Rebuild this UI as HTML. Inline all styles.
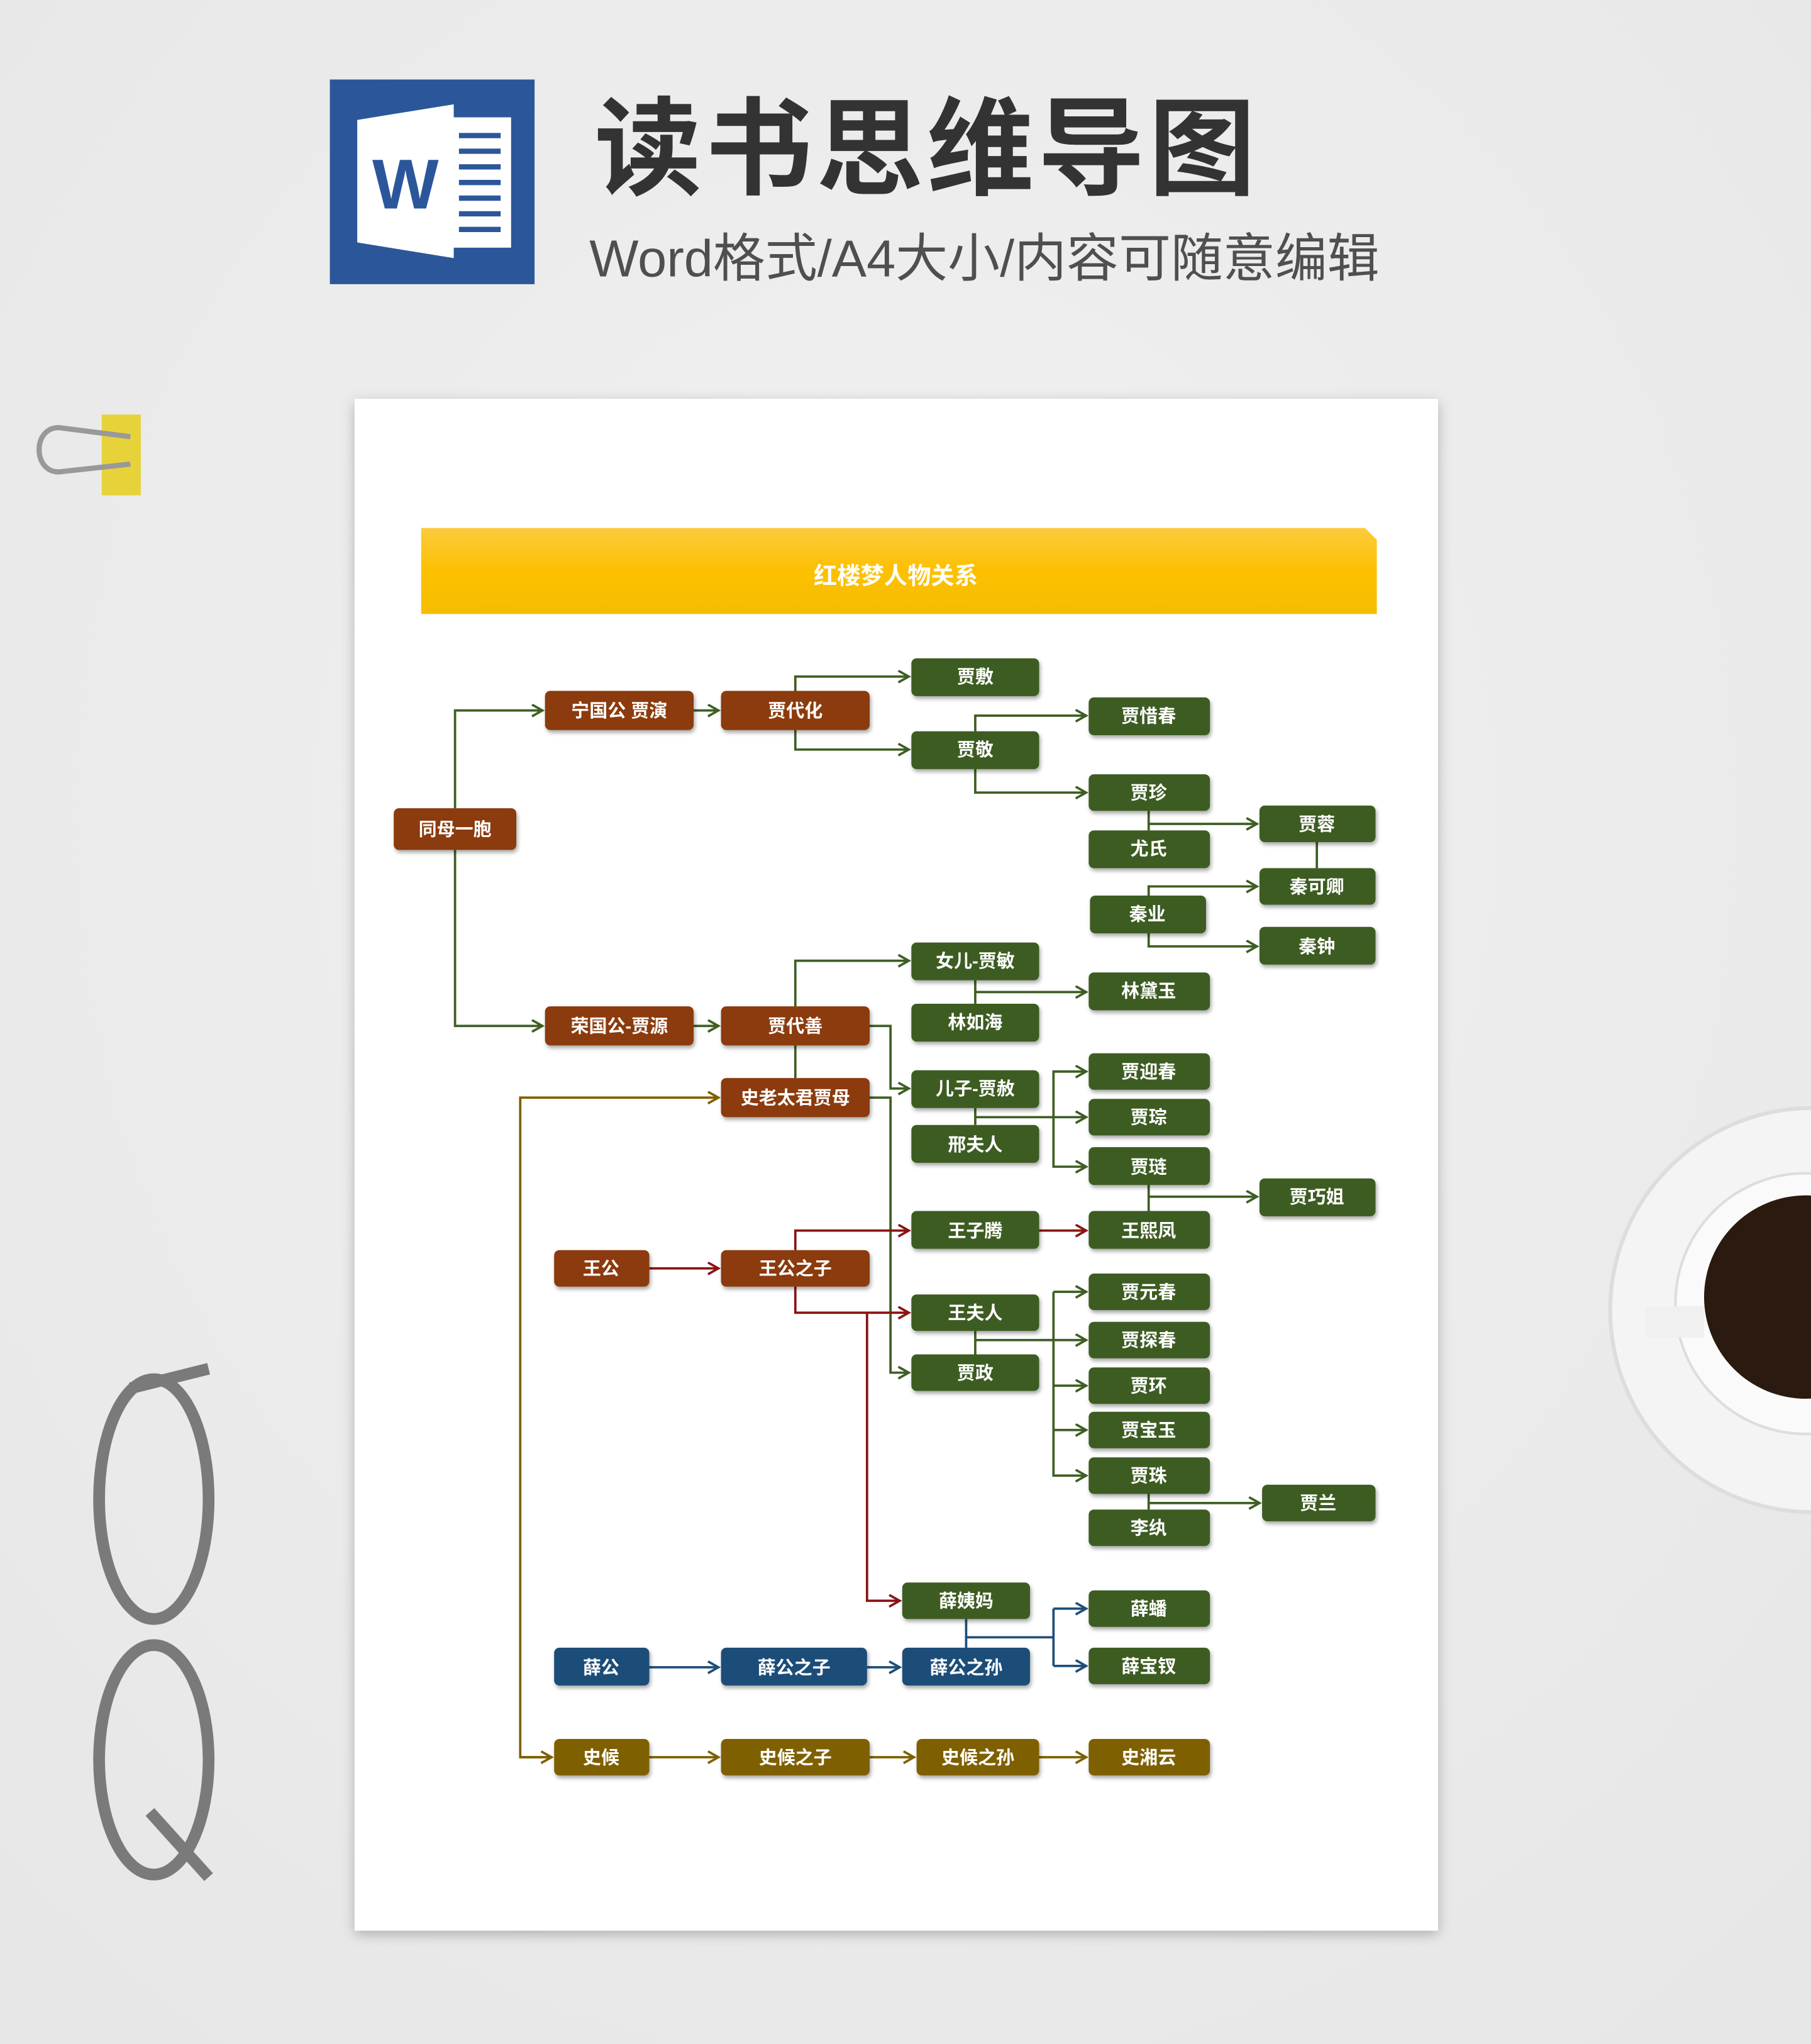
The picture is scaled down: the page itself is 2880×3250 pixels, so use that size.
<!DOCTYPE html>
<html><head><meta charset="utf-8">
<style>
html,body{margin:0;padding:0;width:2880px;height:3250px;overflow:hidden;background:#ebebeb;}
svg{display:block}
text{font-family:"Liberation Sans","Noto Sans CJK SC",sans-serif;}
</style></head><body>
<svg width="2880" height="3250" viewBox="0 0 1389 1568" preserveAspectRatio="none" xmlns="http://www.w3.org/2000/svg">
<defs>
<radialGradient id="bg" cx="50%" cy="40%" r="80%"><stop offset="0" stop-color="#f1f1f1"/><stop offset="1" stop-color="#e6e6e6"/></radialGradient>
<linearGradient id="ban" x1="0" y1="0" x2="0" y2="1"><stop offset="0" stop-color="#fccb3e"/><stop offset="0.5" stop-color="#fcc000"/><stop offset="1" stop-color="#f6bd00"/></linearGradient>
<filter id="sh" x="-10%" y="-10%" width="130%" height="150%"><feDropShadow dx="1" dy="2" stdDeviation="1.5" flood-color="#000" flood-opacity="0.35"/></filter>
<filter id="psh" x="-5%" y="-5%" width="110%" height="110%"><feDropShadow dx="0" dy="3" stdDeviation="5" flood-color="#000" flood-opacity="0.25"/></filter>
<marker id="ag" markerUnits="userSpaceOnUse" markerWidth="12" markerHeight="12" refX="9" refY="5" orient="auto"><path d="M1,0.5 L9,5 L1,9.5" fill="none" stroke="#3e5f24" stroke-width="1.8"/></marker>
<marker id="ar" markerUnits="userSpaceOnUse" markerWidth="12" markerHeight="12" refX="9" refY="5" orient="auto"><path d="M1,0.5 L9,5 L1,9.5" fill="none" stroke="#8b1414" stroke-width="1.8"/></marker>
<marker id="ab" markerUnits="userSpaceOnUse" markerWidth="12" markerHeight="12" refX="9" refY="5" orient="auto"><path d="M1,0.5 L9,5 L1,9.5" fill="none" stroke="#1f4e79" stroke-width="1.8"/></marker>
<marker id="ao" markerUnits="userSpaceOnUse" markerWidth="12" markerHeight="12" refX="9" refY="5" orient="auto"><path d="M1,0.5 L9,5 L1,9.5" fill="none" stroke="#7f6000" stroke-width="1.8"/></marker>
</defs>
<rect width="1389" height="1568" fill="url(#bg)"/>

<!-- Word icon -->
<rect x="253" y="61" width="157" height="157" fill="#2b579a"/>
<rect x="344" y="90" width="48" height="100" fill="#fff"/>
<g stroke="#2b579a" stroke-width="4"><line x1="352" y1="104" x2="384" y2="104"/><line x1="352" y1="116" x2="384" y2="116"/><line x1="352" y1="128" x2="384" y2="128"/><line x1="352" y1="140" x2="384" y2="140"/><line x1="352" y1="152" x2="384" y2="152"/><line x1="352" y1="164" x2="384" y2="164"/><line x1="352" y1="176" x2="384" y2="176"/></g>
<path d="M274,92 L348,80 L348,198 L274,186 Z" fill="#fff"/>
<text x="311" y="160" font-size="54" font-weight="bold" fill="#2b579a" text-anchor="middle">W</text>

<text x="711" y="143" font-size="82" font-weight="bold" fill="#333" text-anchor="middle" letter-spacing="3">读书思维导图</text>
<text x="755" y="212" font-size="40" fill="#4f4f4f" text-anchor="middle">Word格式/A4大小/内容可随意编辑</text>

<!-- clip -->
<rect x="78" y="318" width="30" height="62" fill="#e8d23a"/>
<path d="M100,335 L45,328 C25,328 25,362 45,362 L100,356" fill="none" stroke="#999" stroke-width="4"/>
<!-- glasses -->
<g fill="none" stroke="#7a7a7a" stroke-width="9">
<ellipse cx="118" cy="1150" rx="42" ry="92"/>
<ellipse cx="118" cy="1350" rx="42" ry="88"/>
<path d="M100,1065 L160,1050"/>
<path d="M115,1390 L160,1440"/>
</g>
<!-- cup -->
<circle cx="1390" cy="1005" r="155" fill="#f4f4f4" stroke="#ddd" stroke-width="3"/>
<circle cx="1385" cy="1000" r="100" fill="#fafafa" stroke="#ddd" stroke-width="2"/>
<circle cx="1385" cy="995" r="78" fill="#2a1a10"/>
<rect x="1262" y="1002" width="45" height="24" fill="#f0f0f0"/>

<!-- page -->
<rect x="272" y="306" width="831" height="1175" fill="#fff" filter="url(#psh)"/>
<path d="M323,405 L1047,405 L1056,414 L1056,471 L323,471 Z" fill="url(#ban)"/>
<text x="687" y="448" font-size="18" font-weight="bold" fill="#fff" text-anchor="middle">红楼梦人物关系</text>

<!-- connectors green -->
<g fill="none" stroke="#3e5f24" stroke-width="1.8">
<path d="M349,620 V545 H416" marker-end="url(#ag)"/>
<path d="M349,652 V787 H416" marker-end="url(#ag)"/>
<path d="M532,545 H551" marker-end="url(#ag)"/>
<path d="M532,787 H551" marker-end="url(#ag)"/>
<path d="M610,530 V519 H697" marker-end="url(#ag)"/>
<path d="M610,560 V575 H697" marker-end="url(#ag)"/>
<path d="M748,561 V549 H833" marker-end="url(#ag)"/>
<path d="M748,590 V608 H833" marker-end="url(#ag)"/>
<path d="M881,622 V637"/>
<path d="M881,632 H964" marker-end="url(#ag)"/>
<path d="M1010,646 V666"/>
<path d="M881,687 V680 H964" marker-end="url(#ag)"/>
<path d="M881,716 V726 H964" marker-end="url(#ag)"/>
<path d="M610,772 V737 H697" marker-end="url(#ag)"/>
<path d="M610,802 V827"/>
<path d="M748,752 V770"/>
<path d="M748,761 H833" marker-end="url(#ag)"/>
<path d="M667,787 H683 V835 H697" marker-end="url(#ag)"/>
<path d="M667,842 H683 V1053 H697" marker-end="url(#ag)"/>
<path d="M748,850 V863"/>
<path d="M748,857 H833" marker-end="url(#ag)"/>
<path d="M833,822 H808 V895 H833" marker-end="url(#ag)"/>
<path d="M808,822 H833" marker-end="url(#ag)"/>
<path d="M881,909 V929"/>
<path d="M881,918 H964" marker-end="url(#ag)"/>
<path d="M748,1021 V1039"/>
<path d="M748,1028 H833" marker-end="url(#ag)"/>
<path d="M808,991 V1132 H833" marker-end="url(#ag)"/>
<path d="M808,991 H833" marker-end="url(#ag)"/>
<path d="M808,1063 H833" marker-end="url(#ag)"/>
<path d="M808,1097 H833" marker-end="url(#ag)"/>
<path d="M881,1146 V1158"/>
<path d="M881,1153 H966" marker-end="url(#ag)"/>
</g>
<!-- red -->
<g fill="none" stroke="#8b1414" stroke-width="1.8">
<path d="M498,973 H551" marker-end="url(#ar)"/>
<path d="M610,959 V944 H697" marker-end="url(#ar)"/>
<path d="M610,987 V1007 H697" marker-end="url(#ar)"/>
<path d="M665,1007 V1228 H690" marker-end="url(#ar)"/>
<path d="M797,944 H833" marker-end="url(#ar)"/>
</g>
<!-- blue -->
<g fill="none" stroke="#1f4e79" stroke-width="1.8">
<path d="M498,1279 H551" marker-end="url(#ab)"/>
<path d="M665,1279 H690" marker-end="url(#ab)"/>
<path d="M741,1242 V1264"/>
<path d="M741,1256 H808"/>
<path d="M808,1234 V1278"/>
<path d="M808,1234 H833" marker-end="url(#ab)"/>
<path d="M808,1278 H833" marker-end="url(#ab)"/>
</g>
<!-- olive -->
<g fill="none" stroke="#7f6000" stroke-width="1.8">
<path d="M423,1348 H399 V842 H551" marker-end="url(#ao)"/>
<path d="M399,1348 H423" marker-end="url(#ao)"/>
<path d="M498,1348 H551" marker-end="url(#ao)"/>
<path d="M667,1348 H701" marker-end="url(#ao)"/>
<path d="M797,1348 H833" marker-end="url(#ao)"/>
</g>

<!-- nodes -->
<g filter="url(#sh)">
<g fill="#8b3a0b">
<rect x="302" y="620" width="94" height="32" rx="4"/>
<rect x="418" y="530" width="114" height="30" rx="4"/>
<rect x="553" y="530" width="114" height="30" rx="4"/>
<rect x="418" y="772" width="114" height="30" rx="4"/>
<rect x="553" y="772" width="114" height="30" rx="4"/>
<rect x="553" y="827" width="114" height="30" rx="4"/>
<rect x="425" y="959" width="73" height="28" rx="4"/>
<rect x="553" y="959" width="114" height="28" rx="4"/>
</g>
<g fill="#3e5c24">
<rect x="699" y="505" width="98" height="29" rx="4"/>
<rect x="699" y="561" width="98" height="29" rx="4"/>
<rect x="835" y="535" width="93" height="29" rx="4"/>
<rect x="835" y="594" width="93" height="28" rx="4"/>
<rect x="835" y="637" width="93" height="29" rx="4"/>
<rect x="966" y="618" width="89" height="28" rx="4"/>
<rect x="966" y="666" width="89" height="28" rx="4"/>
<rect x="836" y="687" width="89" height="29" rx="4"/>
<rect x="966" y="711" width="89" height="29" rx="4"/>
<rect x="699" y="723" width="98" height="29" rx="4"/>
<rect x="835" y="746" width="93" height="29" rx="4"/>
<rect x="699" y="770" width="98" height="29" rx="4"/>
<rect x="699" y="821" width="98" height="29" rx="4"/>
<rect x="835" y="808" width="93" height="28" rx="4"/>
<rect x="835" y="843" width="93" height="28" rx="4"/>
<rect x="699" y="863" width="98" height="29" rx="4"/>
<rect x="835" y="880" width="93" height="29" rx="4"/>
<rect x="966" y="904" width="89" height="29" rx="4"/>
<rect x="699" y="929" width="98" height="29" rx="4"/>
<rect x="835" y="929" width="93" height="29" rx="4"/>
<rect x="699" y="993" width="98" height="28" rx="4"/>
<rect x="699" y="1039" width="98" height="28" rx="4"/>
<rect x="835" y="977" width="93" height="28" rx="4"/>
<rect x="835" y="1014" width="93" height="28" rx="4"/>
<rect x="835" y="1049" width="93" height="28" rx="4"/>
<rect x="835" y="1083" width="93" height="28" rx="4"/>
<rect x="835" y="1118" width="93" height="28" rx="4"/>
<rect x="835" y="1158" width="93" height="28" rx="4"/>
<rect x="968" y="1139" width="87" height="28" rx="4"/>
<rect x="692" y="1214" width="98" height="28" rx="4"/>
<rect x="835" y="1220" width="93" height="28" rx="4"/>
<rect x="835" y="1264" width="93" height="28" rx="4"/>
</g>
<g fill="#1f4e79">
<rect x="425" y="1264" width="73" height="29" rx="4"/>
<rect x="553" y="1264" width="112" height="29" rx="4"/>
<rect x="692" y="1264" width="98" height="29" rx="4"/>
</g>
<g fill="#7f6000">
<rect x="425" y="1334" width="73" height="28" rx="4"/>
<rect x="553" y="1334" width="114" height="28" rx="4"/>
<rect x="703" y="1334" width="94" height="28" rx="4"/>
<rect x="835" y="1334" width="93" height="28" rx="4"/>
</g>
</g>

<g fill="#fff" font-size="14" font-weight="bold" text-anchor="middle">
<text x="349" y="641">同母一胞</text>
<text x="475" y="550">宁国公 贾演</text>
<text x="610" y="550">贾代化</text>
<text x="475" y="792">荣国公-贾源</text>
<text x="610" y="792">贾代善</text>
<text x="610" y="847">史老太君贾母</text>
<text x="461" y="978">王公</text>
<text x="610" y="978">王公之子</text>
<text x="748" y="524">贾敷</text>
<text x="748" y="580">贾敬</text>
<text x="881" y="554">贾惜春</text>
<text x="881" y="613">贾珍</text>
<text x="881" y="656">尤氏</text>
<text x="1010" y="637">贾蓉</text>
<text x="1010" y="685">秦可卿</text>
<text x="880" y="706">秦业</text>
<text x="1010" y="731">秦钟</text>
<text x="748" y="742">女儿-贾敏</text>
<text x="881" y="765">林黛玉</text>
<text x="748" y="789">林如海</text>
<text x="748" y="840">儿子-贾赦</text>
<text x="881" y="827">贾迎春</text>
<text x="881" y="862">贾琮</text>
<text x="748" y="883">邢夫人</text>
<text x="881" y="900">贾琏</text>
<text x="1010" y="923">贾巧姐</text>
<text x="748" y="949">王子腾</text>
<text x="881" y="949">王熙凤</text>
<text x="748" y="1012">王夫人</text>
<text x="748" y="1058">贾政</text>
<text x="881" y="996">贾元春</text>
<text x="881" y="1033">贾探春</text>
<text x="881" y="1068">贾环</text>
<text x="881" y="1102">贾宝玉</text>
<text x="881" y="1137">贾珠</text>
<text x="881" y="1177">李纨</text>
<text x="1011" y="1158">贾兰</text>
<text x="741" y="1233">薛姨妈</text>
<text x="881" y="1239">薛蟠</text>
<text x="881" y="1283">薛宝钗</text>
<text x="461" y="1284">薛公</text>
<text x="609" y="1284">薛公之子</text>
<text x="741" y="1284">薛公之孙</text>
<text x="461" y="1353">史候</text>
<text x="610" y="1353">史候之子</text>
<text x="750" y="1353">史候之孙</text>
<text x="881" y="1353">史湘云</text>
</g>
</svg>
</body></html>
